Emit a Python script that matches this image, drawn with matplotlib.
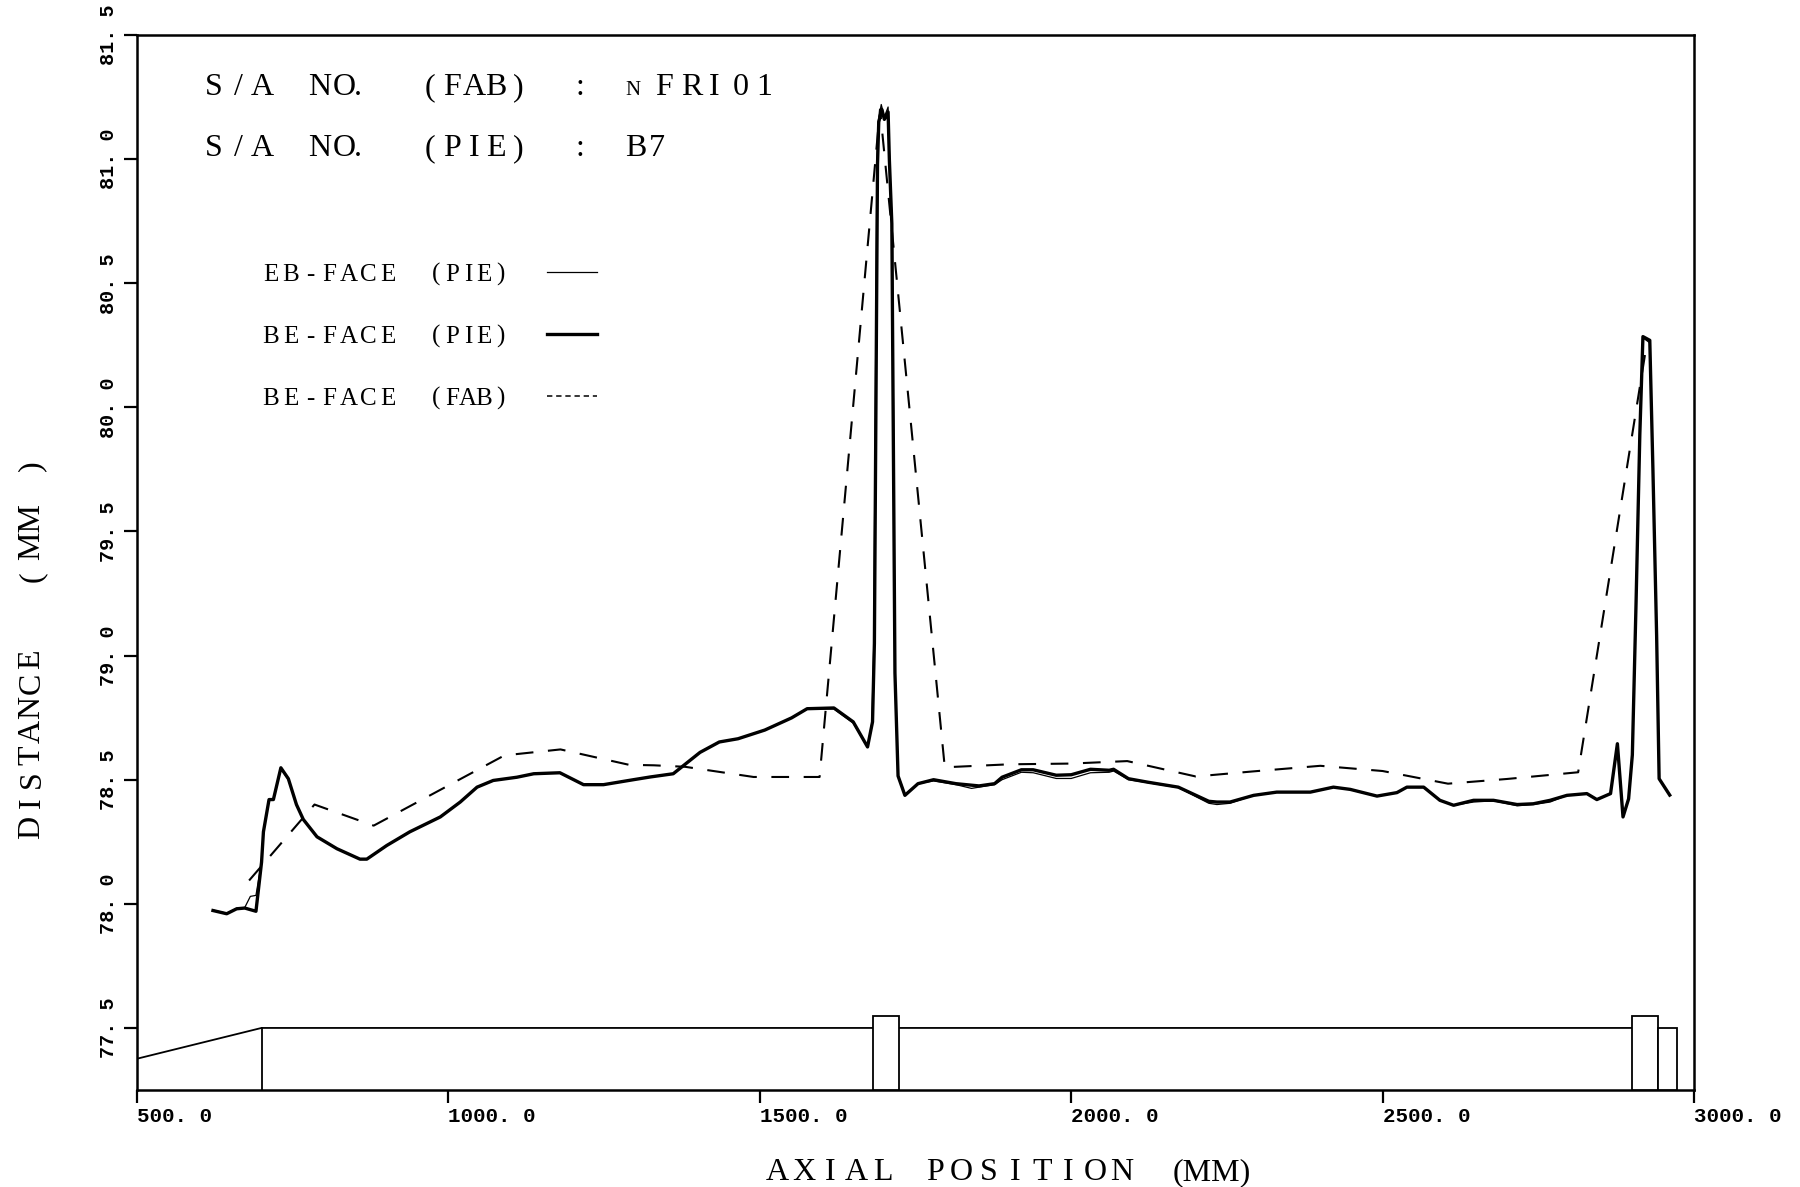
import matplotlib
matplotlib.use("Agg")
import matplotlib.pyplot as plt
from matplotlib.lines import Line2D
from matplotlib.patches import Rectangle

# ---------------- data ----------------
be_pie_x = [622, 644, 660, 673, 691, 700, 703, 712, 719, 731, 743, 756, 767, 789, 821, 858, 869,
            901, 938, 987, 1019, 1046, 1072, 1110, 1137, 1179, 1217, 1249, 1297, 1324, 1361,
            1404, 1435, 1465, 1508, 1551, 1576, 1619, 1650, 1673, 1681, 1684, 1689, 1691, 1696,
            1700, 1706, 1708, 1712, 1717, 1722, 1733, 1754, 1779, 1815, 1852, 1877, 1889, 1920,
            1939, 1976, 2000, 2031, 2061, 2068, 2092, 2123, 2172, 2221, 2234, 2255, 2293, 2330,
            2384, 2421, 2448, 2491, 2523, 2539, 2566, 2592, 2614, 2646, 2678, 2716, 2742, 2769,
            2796, 2828, 2844, 2866, 2877, 2886, 2895, 2901, 2907, 2913, 2918, 2929, 2934, 2940,
            2944, 2961]
be_pie_y = [77.973, 77.960, 77.980, 77.983, 77.970, 78.168, 78.290, 78.420, 78.420, 78.548,
            78.504, 78.400, 78.340, 78.270, 78.222, 78.180, 78.180, 78.235, 78.290, 78.350,
            78.410, 78.470, 78.497, 78.510, 78.524, 78.528, 78.480, 78.480, 78.500, 78.511,
            78.524, 78.610, 78.652, 78.665, 78.700, 78.749, 78.786, 78.789, 78.733, 78.632,
            78.733, 79.050, 80.980, 81.150, 81.200, 81.160, 81.190, 81.000, 80.740, 78.930,
            78.515, 78.437, 78.484, 78.500, 78.484, 78.475, 78.484, 78.510, 78.540, 78.540,
            78.518, 78.520, 78.542, 78.538, 78.542, 78.504, 78.490, 78.470, 78.413, 78.410,
            78.410, 78.437, 78.450, 78.450, 78.470, 78.461, 78.434, 78.448, 78.470, 78.470,
            78.417, 78.397, 78.417, 78.417, 78.400, 78.403, 78.417, 78.437, 78.444, 78.420,
            78.444, 78.645, 78.350, 78.423, 78.600, 79.217, 79.890, 80.285, 80.270, 79.754,
            79.080, 78.504, 78.438]

eb_pie_x = [622, 644, 660, 673, 682, 691, 700, 703, 712, 719, 731, 743, 756, 767, 789, 821, 858,
            869, 901, 938, 987, 1019, 1046, 1072, 1110, 1137, 1179, 1217, 1249, 1297, 1324,
            1361, 1404, 1435, 1465, 1508, 1551, 1576, 1619, 1650, 1673, 1680, 1683, 1688, 1690,
            1695, 1700, 1706, 1709, 1713, 1717, 1722, 1733, 1754, 1779, 1815, 1840, 1852, 1877,
            1889, 1920, 1939, 1976, 2000, 2031, 2061, 2068, 2092, 2123, 2172, 2221, 2234, 2255,
            2293, 2330, 2384, 2421, 2448, 2491, 2523, 2539, 2566, 2592, 2614, 2646, 2678, 2716,
            2742, 2769, 2796, 2828, 2844, 2866, 2877, 2886, 2895, 2901, 2907, 2913, 2918, 2929,
            2934, 2940, 2944, 2961]
eb_pie_y = [77.975, 77.962, 77.982, 77.985, 78.030, 78.034, 78.170, 78.290, 78.420, 78.420,
            78.545, 78.500, 78.400, 78.340, 78.270, 78.222, 78.180, 78.180, 78.235, 78.290,
            78.350, 78.410, 78.470, 78.497, 78.510, 78.524, 78.528, 78.480, 78.480, 78.500,
            78.511, 78.524, 78.610, 78.652, 78.665, 78.700, 78.749, 78.786, 78.785, 78.728,
            78.632, 78.730, 79.050, 80.980, 81.150, 81.220, 81.170, 81.210, 80.950, 80.700,
            78.950, 78.520, 78.440, 78.484, 78.495, 78.480, 78.465, 78.470, 78.480, 78.500,
            78.530, 78.528, 78.505, 78.505, 78.528, 78.530, 78.535, 78.500, 78.488, 78.468,
            78.405, 78.400, 78.405, 78.437, 78.450, 78.450, 78.470, 78.460, 78.434, 78.448,
            78.470, 78.470, 78.417, 78.397, 78.410, 78.415, 78.395, 78.400, 78.410, 78.437,
            78.444, 78.420, 78.444, 78.640, 78.350, 78.423, 78.600, 79.217, 79.890, 80.280,
            80.260, 79.754, 79.080, 78.504, 78.438]

be_fab_x = [680, 785, 880, 1090, 1180, 1290, 1330, 1380, 1490, 1596, 1693, 1797, 1900, 2000,
            2090, 2200, 2290, 2400, 2500, 2605, 2700, 2814, 2925]
be_fab_y = [78.094, 78.400, 78.315, 78.598, 78.622, 78.560, 78.558, 78.552, 78.511, 78.511,
            81.200, 78.550, 78.562, 78.565, 78.575, 78.513, 78.533, 78.556, 78.535, 78.484,
            78.503, 78.530, 80.270]

# assembly schematic (bottom strip)
schem_x = [500, 700, 1682, 1723, 2900]
schem_y = [77.376, 77.5, 77.5, 77.5, 77.5]
spacer_x = [1682, 2900, 2942]
spacer_w = [41, 42, 30]
spacer_h = [77.55, 77.55, 77.50]
y_floor = 77.25

x_ticks = [500, 1000, 1500, 2000, 2500, 3000]
x_tick_labels = ["500. 0", "1000. 0", "1500. 0", "2000. 0", "2500. 0", "3000. 0"]
y_ticks = [77.5, 78.0, 78.5, 79.0, 79.5, 80.0, 80.5, 81.0, 81.5]
y_tick_labels = ["77. 5", "78. 0", "78. 5", "79. 0", "79. 5", "80. 0", "80. 5", "81. 0", "81. 5"]

legend_labels = [("EB-FACE", "(PIE)"), ("BE-FACE", "(PIE)"), ("BE-FACE", "(FAB)")]

# ---------------- figure ----------------
W, H = 1800, 1187
fig = plt.figure(figsize=(W / 100, H / 100), dpi=100)
ax = fig.add_axes([137 / W, 1 - 1090 / H, (1694 - 137) / W, (1090 - 35) / H])

SERIF = ["Liberation Serif", "DejaVu Serif"]
MONO = ["Liberation Mono", "DejaVu Sans Mono"]

ax.plot(be_fab_x, be_fab_y, color="black", lw=1.5, linestyle=(0, (8.5, 7)))
ax.plot(be_pie_x, be_pie_y, color="black", lw=2.4, solid_joinstyle="round")
ax.plot(eb_pie_x, eb_pie_y, color="black", lw=0.9)

# schematic
ax.plot(schem_x, schem_y, color="black", lw=1.3)
ax.plot([schem_x[1], schem_x[1]], [y_floor, schem_y[1]], color="black", lw=1.3)
for sx, sw, sh in zip(spacer_x, spacer_w, spacer_h):
    ax.add_patch(Rectangle((sx, y_floor), sw, sh - y_floor, facecolor="white",
                           edgecolor="black", lw=1.3, zorder=3))

ax.set_xlim(500, 3000)
ax.set_ylim(77.25, 81.5)
ax.set_xticks(x_ticks)
ax.set_xticklabels(x_tick_labels, family=MONO, fontweight="bold", fontsize=15, ha="left")
ax.set_yticks(y_ticks)
ax.set_yticklabels(y_tick_labels, family=MONO, fontweight="bold", fontsize=14.5,
                   rotation=90, va="center")
ax.tick_params(axis="both", direction="out", length=9.5, width=1.6)
ax.tick_params(axis="x", pad=3)
ax.tick_params(axis="y", pad=4)
for sp in ax.spines.values():
    sp.set_linewidth(1.8)


def ftext(x, y, s, **kw):
    fig.text(x / W, 1 - y / H, s, **kw)


def centered(c0, y, s, adv, **kw):
    for i, ch in enumerate(s):
        if ch != " ":
            ftext(c0 + i * adv, y, ch, ha="center", va="baseline", **kw)


# header
hdr = dict(family=SERIF, fontsize=23)
for yb, tag, val in [(95, "(FAB)", "NFRI01"), (156, "(PIE)", "B7")]:
    centered(214, yb, "S/A", 24, **hdr)
    centered(320, yb, "NO", 24, **hdr)
    ftext(358, yb, ".", ha="center", va="baseline", **hdr)
    centered(430, yb, tag, 22, **hdr)
    ftext(580, yb, ":", ha="center", va="baseline", **hdr)
    if val == "NFRI01":
        ftext(633, yb, "N", ha="center", va="baseline", family=SERIF, fontsize=15)
        for ch, xx in zip("FRI01", [664, 692, 714, 741, 764]):
            ftext(xx, yb, ch, ha="center", va="baseline", **hdr)
    else:
        for ch, xx in zip(val, [636, 657]):
            ftext(xx, yb, ch, ha="center", va="baseline", **hdr)

# legend block
leg = dict(family=SERIF, fontsize=18)
rows_y = [281, 343, 405]
for (a, b), yb in zip(legend_labels, rows_y):
    centered(271, yb, a, 19.5, **leg)
    centered(436, yb, b, 16, **leg)
styles = [dict(lw=0.9, ls="-"), dict(lw=2.4, ls="-"), dict(lw=1.1, ls=(0, (3.5, 2.5)))]
for yb, st in zip(rows_y, styles):
    yl = 1 - (yb - 9) / H
    fig.add_artist(Line2D([547 / W, 597 / W], [yl, yl], color="black", **st))

# axis labels
lab = dict(family=SERIF, fontsize=23)
for ch, xc in zip("AXIAL", [777, 803.5, 830, 856.5, 883]):
    ftext(xc, 1180, ch, ha="center", va="baseline", **lab)
for i, ch in enumerate("POSITION"):
    ftext(935 + i * 26.7, 1180, ch, ha="center", va="baseline", **lab)
ftext(1173, 1180, "(MM)", ha="left", va="baseline", **lab)

for i, ch in enumerate("DISTANCE"):
    ftext(32, 827 - i * 24, ch, ha="center", va="center", rotation=90, **lab)
ftext(32, 577, "(", ha="center", va="center", rotation=90, **lab)
ftext(32, 531, "MM", ha="center", va="center", rotation=90, **lab)
ftext(32, 466, ")", ha="center", va="center", rotation=90, **lab)

fig.savefig("out.png", dpi=100, facecolor="white")
